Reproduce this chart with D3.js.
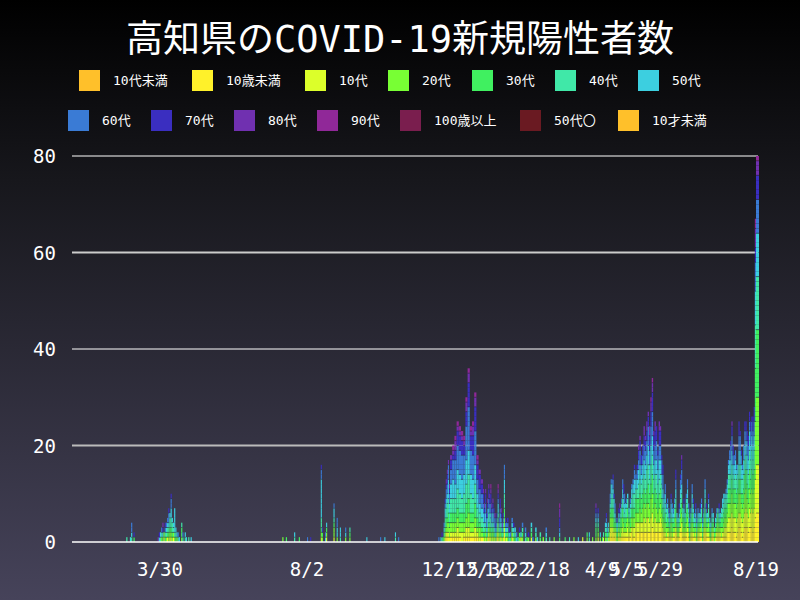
<!DOCTYPE html>
<html><head><meta charset="utf-8">
<script src="https://cdn.jsdelivr.net/npm/d3@7"></script>
<style>html,body{margin:0;padding:0;background:#000;}svg{display:block}</style>
</head><body><svg id="c" width="800" height="600"></svg>
<script>
const seriesNames=["10代未満","10歳未満","10代","20代","30代","40代","50代","60代","70代","80代","90代","100歳以上","50代〇","10才未満"];
const seriesColors=["#FFC02A","#FFF12A","#DCFF2A","#78FF34","#40F060","#40E8A8","#3CCFE0","#3A7BD5","#3A2EC0","#7030B0","#902898","#7A1E4E","#6A1A22","#FFC02A"];
// digit d in a day's string = one case of age group: 0->10歳未満, 1->10代, 2->20代 ... 9->90代
const ageDigitToSeries=[1,2,3,4,5,6,7,8,9,10];
const dayDates=[
"2020-03-02","2020-03-04","2020-03-05","2020-03-06","2020-03-08",
"2020-03-28","2020-03-29","2020-03-30","2020-03-31","2020-04-01","2020-04-02","2020-04-03","2020-04-04","2020-04-05","2020-04-06","2020-04-07","2020-04-08","2020-04-09","2020-04-10","2020-04-11","2020-04-12","2020-04-13","2020-04-14","2020-04-15","2020-04-17","2020-04-18","2020-04-20","2020-04-21","2020-04-23","2020-04-25",
"2020-07-12","2020-07-15","2020-07-22","2020-07-26","2020-08-02","2020-08-05","2020-08-15","2020-08-16","2020-08-19","2020-08-20","2020-08-27","2020-08-30","2020-09-02","2020-09-07","2020-09-11","2020-09-27","2020-10-10","2020-10-14","2020-10-24","2020-10-27",
"2020-12-04","2020-12-06","2020-12-07","2020-12-08","2020-12-09","2020-12-10","2020-12-11","2020-12-12","2020-12-13","2020-12-14","2020-12-15","2020-12-16","2020-12-17","2020-12-18","2020-12-19","2020-12-20","2020-12-21","2020-12-22","2020-12-23","2020-12-24","2020-12-25","2020-12-26","2020-12-27","2020-12-28","2020-12-29","2020-12-30","2020-12-31",
"2021-01-01","2021-01-02","2021-01-03","2021-01-04","2021-01-05","2021-01-06","2021-01-07","2021-01-08","2021-01-09","2021-01-10","2021-01-11","2021-01-12","2021-01-13","2021-01-14","2021-01-15","2021-01-16","2021-01-17","2021-01-18","2021-01-19","2021-01-20","2021-01-21","2021-01-22","2021-01-23","2021-01-24","2021-01-25","2021-01-26","2021-01-27","2021-01-28","2021-01-29","2021-01-30","2021-01-31",
"2021-02-01","2021-02-03","2021-02-04","2021-02-05","2021-02-07","2021-02-08","2021-02-10","2021-02-11","2021-02-13","2021-02-15","2021-02-17","2021-02-20","2021-02-24","2021-03-01","2021-03-06","2021-03-10","2021-03-14","2021-03-18","2021-03-22","2021-03-26","2021-03-28","2021-03-31","2021-04-03","2021-04-05","2021-04-07",
"2021-04-09","2021-04-10","2021-04-12","2021-04-13","2021-04-14","2021-04-15","2021-04-16","2021-04-17","2021-04-18","2021-04-19","2021-04-20","2021-04-21","2021-04-22","2021-04-23","2021-04-24","2021-04-25","2021-04-26","2021-04-27","2021-04-28","2021-04-29","2021-04-30",
"2021-05-01","2021-05-02","2021-05-03","2021-05-04","2021-05-05","2021-05-06","2021-05-07","2021-05-08","2021-05-09","2021-05-10","2021-05-11","2021-05-12","2021-05-13","2021-05-14","2021-05-15","2021-05-16","2021-05-17","2021-05-18","2021-05-19","2021-05-20","2021-05-21","2021-05-22","2021-05-23","2021-05-24","2021-05-25","2021-05-26","2021-05-27","2021-05-28","2021-05-29","2021-05-30","2021-05-31",
"2021-06-01","2021-06-02","2021-06-03","2021-06-04","2021-06-05","2021-06-06","2021-06-07","2021-06-08","2021-06-09","2021-06-10","2021-06-11","2021-06-12","2021-06-13","2021-06-14","2021-06-15","2021-06-16","2021-06-17","2021-06-18","2021-06-19","2021-06-20","2021-06-21","2021-06-22","2021-06-23","2021-06-24","2021-06-25","2021-06-26","2021-06-27","2021-06-28","2021-06-29","2021-06-30",
"2021-07-01","2021-07-02","2021-07-03","2021-07-04","2021-07-05","2021-07-06","2021-07-07","2021-07-08","2021-07-09","2021-07-10","2021-07-11","2021-07-12","2021-07-13","2021-07-14","2021-07-15","2021-07-16","2021-07-17","2021-07-18","2021-07-19","2021-07-20","2021-07-21","2021-07-22","2021-07-23","2021-07-24","2021-07-25","2021-07-26","2021-07-27","2021-07-28","2021-07-29","2021-07-30","2021-07-31",
"2021-08-01","2021-08-02","2021-08-03","2021-08-04","2021-08-05","2021-08-06","2021-08-07","2021-08-08","2021-08-09","2021-08-10","2021-08-11","2021-08-12","2021-08-13","2021-08-14","2021-08-15","2021-08-16","2021-08-17","2021-08-18","2021-08-19"];
const dayCases=[
"4","","5","6456","37",
"8","57","45","246","3578","12","3467","2456","03456","2345667","123445","1234455667","23445","0245","2455555","345","25","46","5","2334","46","45","5","4","5",
"2","3","45","3","6","7","1234455555555667","237","56","1235","12234556","25566","455","256","234","5","6","5","45","6",
"6","5","47","3","2456","123445567","0123344556678","012234445566778","01223344455556668","122344556678","012233444555666778","01223344455556666789","0122334445556666677889","0112233444455556666677789","012233444455556666677789","11223344455556666677789","0122334444555566667789","011223334444555556666666777889","011222333444445555566666666677777889","012233444455556666677789","0122334445555666667777889","0112233344445555666666677777889","012334455566677789","122344556667778","0234455666778","13445566778","23456678",
"12345566778","245667","134556678","012344566778","1234556678","123445667789","23456678","123455678","2345667","145668","3567","024567","012234556789","23567","123455677","1345678","2468","134567","0012233444555666","24567","1356","23467","457","36","12456","2457","345","56","4","237","15",
"2346","456","3","27","1345","6","245","5","34","2","456","4","2","35677889","3","4","2","5","1","23","45","2","23345678","1234567","25",
"3","14","2345","234567","456","1345","23","0012234566","0112233445556","0112233444556","00122334455667","0123344557","01234566","1123","23456","2345","0123457","12345678","1223345","012334456","0112233445566",
"012234455677","0123345566","01233445","012234456","0112233445","0122345","012334456","001223344556","0112233444556","0112233444555667","00112233344556","0011223334455667","00112233344455566778","0011222333444555666778","001122333444556677","00112223334445556677","001112223334445556667788","0011222333444555666778","0011122233344445556667788","001112223333444455556666778","001122233344455566677788","001112222333444455556666777889","0001112222333344445555666667777889","00112223334445556667778","0011122233344455566677788","001122233344445556666777","0011223334445556667","0011222333444555566677788","001112223334445556667778","001122333444556667","0012233445566677",
"0122344556","012233445566","12234456","012334456","0123456","123456","0122345567","12334556","0123456","012334456","001223344556677","012345","12345","01234567","00122334455667","001122334455666778","0122344","012334567","012345","0122334456","0012233445566","01234456","23456","0123456","012233445566","012344567","123456","01234567","23456","0123456",
"012345","01234567","012234456","23456","0123456","0012233445566","01234567","012345","0122344567","12345","2345","0123456","012345","234","12345","0123456","0122334","01234567","012345","1223345","012334455","0122334455","0112233445","01122334456","0011223344556","00111222333444556","0011122233344455566","001112223334445556667","0001112222333444555666778","00111222333444556677","001112223334455566",
"0011122233344455566","0111222333444556","0011122233344455","0001112222333444555666777","00011122223334445556667","0011122233444555667","0111222333444556","00111222333444555666","0001112222333344455566677","0001111222233334445556677","00011122233344455566677","0011122233344455566677","000111122223333444455556677","0001112222333444455566677","00011112222333344445556667","00111122223333444555666777","0001111222233334444555666777",
"0000011111111222222222222333333333334444444445555555666666777888899",
"00000011111111112222222222222233333333333333444444444445555555556666666777778889"];

const tickDates=["2020-03-30","2020-08-02","2020-12-15","2020-12-30","2021-01-22","2021-02-18","2021-04-09","2021-05-05","2021-05-29","2021-08-19"];
const tickLabels=["3/30","8/2","12/15","12/30","1/22","2/18","4/9","5/5","5/29","8/19"];
const yTicks=[0,20,40,60,80];

const svg=d3.select("#c");
const W=800,H=600;
const defs=svg.append("defs");
const g=defs.append("linearGradient").attr("id","bg").attr("x1",0).attr("y1",0).attr("x2",0).attr("y2",1);
g.append("stop").attr("offset","0").attr("stop-color","#000000");
g.append("stop").attr("offset","0.3").attr("stop-color","#17171c");
g.append("stop").attr("offset","1").attr("stop-color","#46435a");
svg.append("rect").attr("width",W).attr("height",H).attr("fill","url(#bg)");

const parse=d3.timeParse("%Y-%m-%d");
const left=72,y0=542,yTop=156;
const xDom=[parse("2020-01-17")].concat(tickDates.map(parse)).concat([parse("2021-08-20")]);
const xRng=[left,160,307,450,483,507,547,602,627,660,756,759];
const x=d3.scaleTime().domain(xDom).range(xRng);
const y=d3.scaleLinear().domain([0,80]).range([y0,yTop]);

// grid
const gridCol={20:"#bbbbbb",40:"#ffffff",60:"#cccccc",80:"#ffffff"};
svg.append("g").selectAll("line").data(yTicks.filter(v=>v>0)).join("line")
 .attr("x1",left).attr("x2",758).attr("y1",d=>y(d)).attr("y2",d=>y(d))
 .attr("stroke",d=>gridCol[d]).attr("stroke-width",d=>d%40===0?1:2);

// bars: one rect per case
const bars=svg.append("g");
dayDates.forEach((ds,i)=>{
  const d=parse(ds);
  const x0=x(d), x1=x(d3.timeDay.offset(d,1));
  const w=Math.max(1.1,x1-x0);
  const digits=dayCases[i].split("").map(Number).sort((a,b)=>a-b);
  digits.forEach((dg,k)=>{
    const s=ageDigitToSeries[dg];
    bars.append("rect").attr("x",x0).attr("width",w)
      .attr("y",y(k+1)).attr("height",y(k)-y(k+1))
      .attr("fill",seriesColors[s]);
  });
  // thin dark separators between age groups
  let prev=-1;
  digits.forEach((dg,k)=>{
    if(k>0 && dg!==prev){
      bars.append("line").attr("x1",x0).attr("x2",x0+w).attr("y1",y(k)).attr("y2",y(k))
        .attr("stroke","rgba(30,30,40,0.6)").attr("stroke-width",0.8);
    }
    prev=dg;
  });
});

// baseline
svg.append("line").attr("x1",left).attr("x2",758).attr("y1",y0).attr("y2",y0).attr("stroke","#fff").attr("stroke-width",1.5);

// y labels
svg.append("g").selectAll("text").data(yTicks).join("text")
 .attr("x",56).attr("y",d=>y(d)+7).attr("text-anchor","end").attr("fill","#fff")
 .attr("font-family","DejaVu Sans Mono").attr("font-size",19).text(d=>d);
// x labels
svg.append("g").selectAll("text").data(tickDates).join("text")
 .attr("x",d=>x(parse(d))).attr("y",576).attr("text-anchor","middle").attr("fill","#fff")
 .attr("font-family","DejaVu Sans Mono").attr("font-size",19).text((d,i)=>tickLabels[i]);

// title
svg.append("text").attr("x",400).attr("y",52).attr("text-anchor","middle").attr("fill","#fff")
 .attr("font-family","DejaVu Sans Mono, Noto Sans CJK JP").attr("font-size",37).text("高知県のCOVID-19新規陽性者数");

// legend
const legPos=[[79,70],[192,70],[305,70],[388,70],[472,70],[555,70],[638,70],[68,110],[151,110],[234,110],[317,110],[400,110],[520,110],[618,110]];
const leg=svg.append("g");
seriesNames.forEach((n,i)=>{
  const [lx,ly]=legPos[i];
  leg.append("rect").attr("x",lx).attr("y",ly).attr("width",21).attr("height",21).attr("fill",seriesColors[i]);
  leg.append("text").attr("x",lx+34).attr("y",ly+15).attr("fill","#fff")
   .attr("font-family","DejaVu Sans Mono, Noto Sans CJK JP").attr("font-size",13).text(n);
});
</script></body></html>
